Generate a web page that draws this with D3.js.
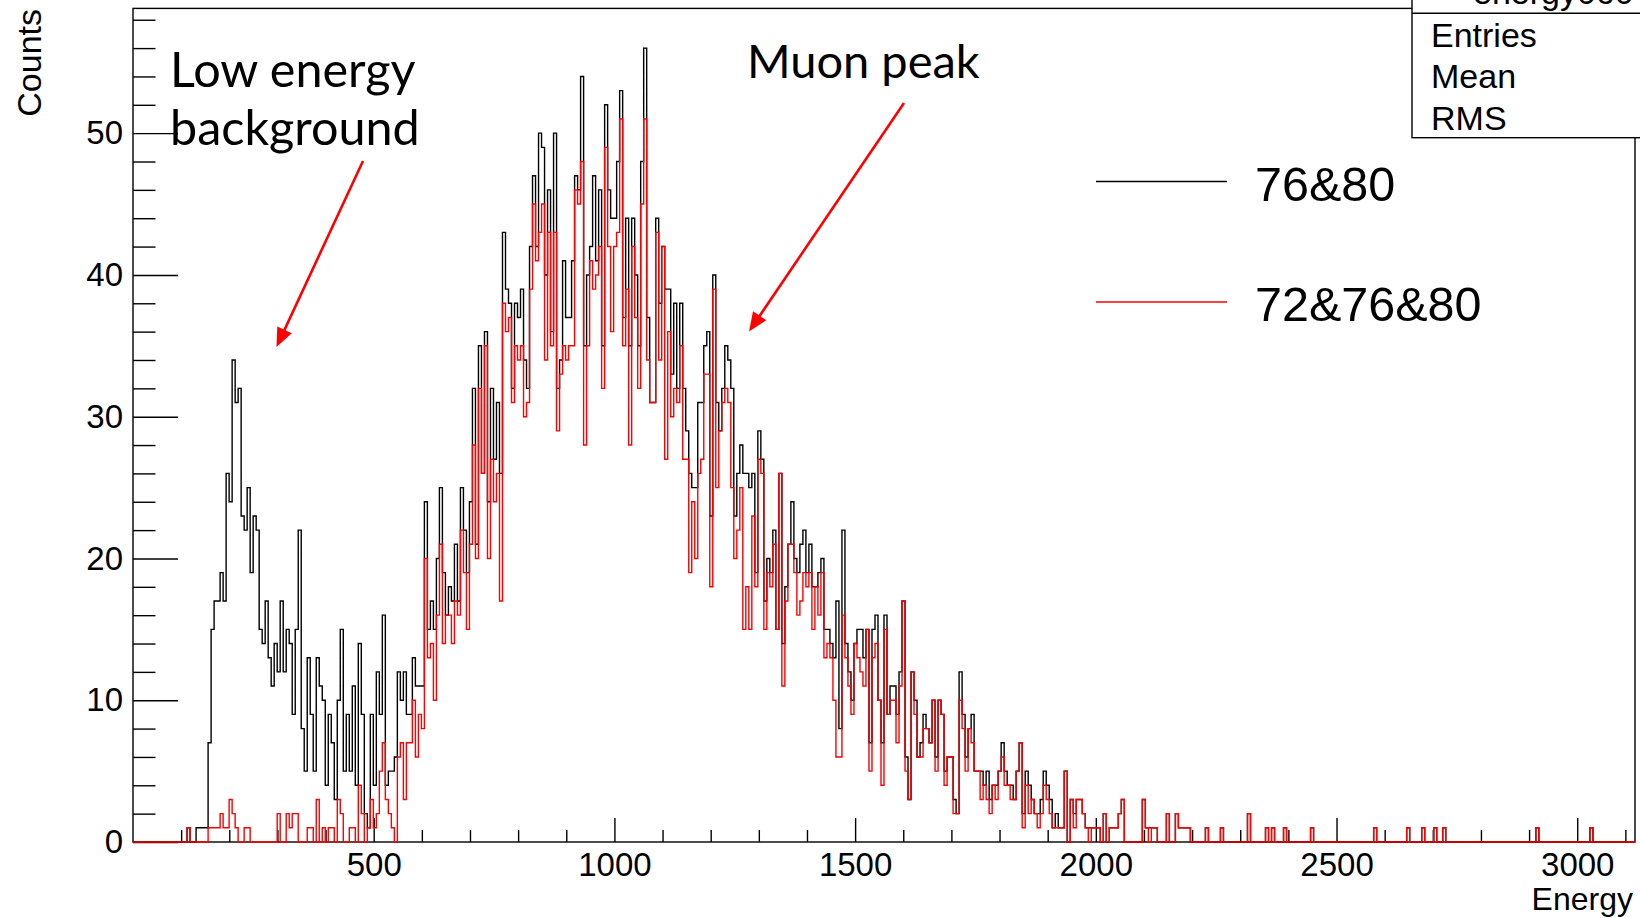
<!DOCTYPE html>
<html>
<head>
<meta charset="utf-8">
<script src="https://cdn.jsdelivr.net/npm/d3@7"></script>
<style>
  html, body { margin: 0; padding: 0; background: #fff; }
  svg { display: block; }
</style>
</head>
<body>
<svg id="chart" width="1640" height="918"></svg>
<script>
// binning of both histograms (500 bins over 0..3120)
const nBins = 500;
const xMin = 0, xMax = 3120;
const firstBin = 15;

// counts per bin, starting at firstBin : "76&80"
const counts7680 = [
  0,0,0,1,0,0,1,1,1,1,
  7,15,17,17,19,17,26,24,34,31,
  32,23,22,25,19,23,22,15,14,17,
  13,11,14,12,17,12,15,14,9,15,
  22,8,5,13,9,5,13,11,10,4,
  9,7,3,10,15,5,9,5,11,4,
  14,9,2,1,9,4,12,9,16,4,
  5,5,6,12,10,12,9,9,13,11,
  11,11,24,15,17,15,20,25,19,16,
  18,17,21,17,25,22,19,24,32,21,
  35,26,36,24,32,27,31,26,43,39,
  38,32,38,37,39,34,32,42,47,42,
  50,49,40,46,36,50,32,34,41,37,
  37,41,47,46,54,35,40,42,47,41,
  46,35,52,46,44,44,48,53,37,44,
  35,44,40,35,48,56,37,31,31,44,
  38,42,39,39,33,38,32,38,32,29,
  26,25,25,31,31,35,36,23,40,31,
  29,32,35,34,32,23,26,28,26,26,
  25,26,19,29,27,17,20,19,22,15,
  26,14,18,21,24,20,19,21,22,19,
  21,18,18,19,20,15,15,14,13,17,
  8,22,14,12,10,14,15,15,13,15,
  7,15,16,10,7,16,9,11,11,9,
  12,17,6,3,12,10,6,7,9,8,
  7,10,6,10,9,5,6,6,3,2,
  12,9,6,8,9,5,5,5,4,5,
  3,4,4,5,7,5,4,4,3,5,
  7,2,5,4,3,2,2,3,5,4,
  3,1,2,1,1,5,0,3,2,3,
  3,2,1,1,1,1,1,0,2,0,
  1,1,1,2,3,0,0,0,0,0,
  0,3,1,1,1,1,0,0,0,2,
  0,0,2,1,1,1,1
];

// counts per bin, starting at firstBin : "72&76&80"
const counts727680 = [
  0,0,0,1,0,0,0,0,0,0,
  1,1,1,1,2,1,1,3,2,1,
  0,0,1,1,0,0,0,0,0,0,
  0,0,0,2,0,0,2,1,2,2,
  0,0,0,1,1,0,3,0,1,0,
  1,1,0,3,2,0,0,1,1,0,
  4,2,0,1,3,1,2,5,7,3,
  2,1,0,6,7,3,7,7,10,6,
  9,8,20,13,14,10,16,21,14,16,
  16,14,17,16,22,19,15,21,28,20,
  32,26,35,20,27,24,26,17,38,36,
  37,31,35,34,35,30,31,39,45,41,
  43,45,34,43,35,43,29,33,35,34,
  35,35,46,45,48,28,35,41,39,40,
  42,32,49,42,36,42,43,51,35,39,
  28,42,37,32,45,51,34,31,31,43,
  34,42,27,36,30,32,31,35,27,27,
  19,24,20,26,27,33,33,18,39,25,
  29,31,32,31,25,20,22,25,15,18,
  15,23,18,27,26,15,19,18,21,15,
  26,11,17,21,21,19,16,17,19,18,
  19,15,18,16,19,13,14,13,10,6,
  6,16,13,11,9,14,13,12,11,15,
  5,13,14,10,4,15,9,10,10,7,
  11,17,5,3,12,9,6,6,8,8,
  7,10,5,10,9,4,6,6,2,2,
  10,8,5,8,7,5,5,3,4,3,
  2,4,3,5,6,4,4,3,3,5,
  7,1,4,2,3,2,1,2,4,3,
  2,1,1,1,1,5,0,3,1,3,
  3,2,1,0,1,1,1,0,2,0,
  1,1,1,2,3,0,0,0,0,0,
  0,3,1,0,1,1,0,0,0,2,
  0,0,2,1,1,1,1
];

// sparse high energy tail (bin index, count), same in both
const tailBins   = [357, 362, 371, 377, 379, 383, 392, 413, 424, 429, 433, 436, 467, 485];
const tailCounts = [1, 1, 2, 1, 1, 1, 1, 1, 1, 1, 1, 1, 1, 1];

const legendNames = ["76&80", "72&76&80"];
const xMajorTicks = [500, 1000, 1500, 2000, 2500, 3000];
const yMajorTicks = [0, 10, 20, 30, 40, 50];
const statLabels = ["Entries", "Mean", "RMS"];

const W = 1640, H = 918;
const plotLeft = 133, plotRight = 1635, plotTop = 8.4, plotBottom = 842;
const yMax = 58.8;
const rootFont = "'Liberation Sans', Arial, Helvetica, sans-serif";
const noteFont = "Lato, 'Open Sans', sans-serif";

const svg = d3.select("#chart");

let x = d3.scaleLinear().domain([xMin, xMax]).range([plotLeft, plotRight]);
let y = d3.scaleLinear().domain([0, yMax]).range([plotBottom, plotTop]);

const binW = (xMax - xMin) / nBins;

function fillBins(counts) {
  let a = new Array(nBins).fill(0);
  counts.forEach((c, i) => { a[firstBin + i] = c; });
  tailBins.forEach((b, i) => { a[b] = tailCounts[i]; });
  return a;
}

function stepPoints(bins) {
  let pts = bins.map((c, i) => [xMin + i * binW, c]);
  pts.push([xMax, bins[nBins - 1]]);
  return pts;
}

let histLine = d3.line()
  .x(d => x(d[0]))
  .y(d => y(d[1]))
  .curve(d3.curveStepAfter);

// frame
svg.append("rect")
  .attr("x", plotLeft).attr("y", plotTop)
  .attr("width", plotRight - plotLeft).attr("height", plotBottom - plotTop)
  .style("fill", "none")
  .style("stroke", "#000")
  .style("stroke-width", 1.4);

// first histogram
svg.append("path")
  .attr("d", histLine(stepPoints(fillBins(counts7680))))
  .style("fill", "none")
  .style("stroke", "#000")
  .style("stroke-width", 1.4);

// axes (ticks pointing inside the frame)
let xMinor = d3.range(100, xMax, 100).filter(v => v % 500 !== 0);
let yMinor = d3.range(2, yMax, 2).filter(v => v % 10 !== 0);

svg.append("g")
  .attr("transform", "translate(0," + plotBottom + ")")
  .call(d3.axisBottom(x).tickValues(xMinor).tickSize(-12).tickFormat(""))
  .call(g => g.select(".domain").remove())
  .selectAll("line").style("stroke-width", 1.4);

svg.append("g")
  .attr("transform", "translate(0," + plotBottom + ")")
  .call(d3.axisBottom(x).tickValues(xMajorTicks).tickSize(-24).tickPadding(11).tickFormat(d3.format("d")))
  .call(g => g.select(".domain").remove())
  .call(g => g.selectAll("line").style("stroke-width", 1.4))
  .selectAll("text")
    .style("font-family", rootFont)
    .style("font-size", "33px")
    .style("fill", "#000");

svg.append("g")
  .attr("transform", "translate(" + plotLeft + ",0)")
  .call(d3.axisLeft(y).tickValues(yMinor).tickSize(-22.5).tickFormat(""))
  .call(g => g.select(".domain").remove())
  .selectAll("line").style("stroke-width", 1.4);

svg.append("g")
  .attr("transform", "translate(" + plotLeft + ",0)")
  .call(d3.axisLeft(y).tickValues(yMajorTicks).tickSize(-45).tickPadding(10).tickFormat(d3.format("d")))
  .call(g => g.select(".domain").remove())
  .call(g => g.selectAll("line").style("stroke-width", 1.4))
  .selectAll("text")
    .style("font-family", rootFont)
    .style("font-size", "33px")
    .style("fill", "#000");

// second histogram on top
svg.append("path")
  .attr("d", histLine(stepPoints(fillBins(counts727680))))
  .style("fill", "none")
  .style("stroke", "#ff0000")
  .style("stroke-width", 1.4);

// axis titles
svg.append("text")
  .attr("x", plotRight - 2)
  .attr("y", 910)
  .text("Energy")
  .style("font-family", rootFont)
  .style("font-size", "32px")
  .style("text-anchor", "end");

svg.append("text")
  .attr("transform", "translate(41,9) rotate(-90)")
  .text("Counts")
  .style("font-family", rootFont)
  .style("font-size", "34px")
  .style("text-anchor", "end");

// stats box, cut by the top and right edges
svg.append("rect")
  .attr("x", 1412).attr("y", -30)
  .attr("width", 300).attr("height", 137.7 + 30)
  .style("fill", "#fff")
  .style("stroke", "#000")
  .style("stroke-width", 1.4);
svg.append("line")
  .attr("x1", 1412).attr("x2", W)
  .attr("y1", 13.3).attr("y2", 13.3)
  .style("stroke", "#000")
  .style("stroke-width", 1.4);
svg.append("text")
  .attr("x", 1473).attr("y", 3.5)
  .text("energy060")
  .style("font-family", rootFont)
  .style("font-size", "34px");
svg.selectAll(".stat")
  .data(statLabels)
  .enter()
  .append("text")
  .attr("class", "stat")
  .attr("x", 1431)
  .attr("y", (d, i) => 46.5 + i * 41.8)
  .text(d => d)
  .style("font-family", rootFont)
  .style("font-size", "34px");

// legend
let legendColors = ["#000", "#ff0000"];
let legendY = [181.5, 302];
legendNames.forEach((name, i) => {
  svg.append("line")
    .attr("x1", 1096).attr("x2", 1227)
    .attr("y1", legendY[i]).attr("y2", legendY[i])
    .style("stroke", legendColors[i])
    .style("stroke-width", 1.4);
  svg.append("text")
    .attr("x", 1255)
    .attr("y", legendY[i] + 19)
    .text(name)
    .style("font-family", rootFont)
    .style("font-size", "48.5px");
});

// annotations
function addNote(lines, x0, y0, lineGap, size) {
  lines.forEach((t, i) => {
    svg.append("text")
      .attr("x", x0)
      .attr("y", y0 + i * lineGap)
      .text(t)
      .style("font-family", noteFont)
      .style("font-size", size + "px")
      .style("fill", "#000");
  });
}
addNote(["Low energy", "background"], 170, 87, 58, 48.5);
addNote(["Muon peak"], 747, 77.5, 0, 47);

function addArrow(x1, y1, x2, y2) {
  let dx = x2 - x1, dy = y2 - y1;
  let len = Math.hypot(dx, dy);
  let ux = dx / len, uy = dy / len;
  let headLen = 19, headW = 8;
  let bx = x2 - ux * headLen, by = y2 - uy * headLen;
  svg.append("line")
    .attr("x1", x1).attr("y1", y1)
    .attr("x2", bx + ux * 2).attr("y2", by + uy * 2)
    .style("stroke", "#ff0000")
    .style("stroke-width", 2.6);
  svg.append("path")
    .attr("d", "M" + x2 + "," + y2 +
      "L" + (bx - uy * headW) + "," + (by + ux * headW) +
      "L" + (bx + uy * headW) + "," + (by - ux * headW) + "Z")
    .style("fill", "#ff0000");
}
addArrow(363, 161, 276.5, 347);
addArrow(904, 103, 749, 331.5);
</script>
</body>
</html>
